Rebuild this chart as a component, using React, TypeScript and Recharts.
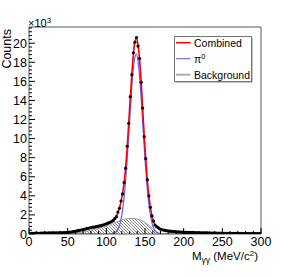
import React from "react";
import {
  ComposedChart,
  XAxis,
  YAxis,
  Line,
  Area,
  Scatter,
  ReferenceArea,
  Legend,
} from "recharts";

// invariant mass histogram, 2 MeV bins, counts in units of 10^3
const binCenters = Array.from({ length: 150 }, (_, i) => 1 + 2 * i);

const counts = [
  0.05, 0.07, 0.08, 0.07, 0.09, 0.08, 0.08, 0.1, 0.09, 0.1,
  0.11, 0.09, 0.11, 0.12, 0.1, 0.12, 0.13, 0.11, 0.13, 0.12,
  0.14, 0.13, 0.14, 0.15, 0.14, 0.17, 0.2, 0.21, 0.25, 0.29,
  0.3, 0.35, 0.37, 0.42, 0.44, 0.5, 0.52, 0.58, 0.6, 0.65,
  0.67, 0.72, 0.73, 0.78, 0.79, 0.85, 0.87, 0.94, 0.97, 1.05,
  1.09, 1.18, 1.23, 1.33, 1.42, 1.63, 1.82, 2.3, 2.7, 3.45,
  4.2, 5.4, 6.9, 9.2, 11.6, 14.4, 16.7, 19.0, 20.1, 20.6,
  19.7, 18.4, 15.9, 13.2, 10.2, 7.9, 5.7, 4.0, 2.8, 1.9,
  1.35, 0.94, 0.78, 0.66, 0.54, 0.49, 0.42, 0.4, 0.35, 0.34,
  0.3, 0.3, 0.27, 0.25, 0.26, 0.22, 0.23, 0.21, 0.19, 0.2,
  0.18, 0.17, 0.18, 0.16, 0.15, 0.16, 0.14, 0.15, 0.13, 0.14,
  0.12, 0.13, 0.11, 0.12, 0.11, 0.1, 0.11, 0.1, 0.09, 0.1,
  0.09, 0.09, 0.08, 0.09, 0.08, 0.08, 0.07, 0.08, 0.07, 0.07,
  0.07, 0.06, 0.07, 0.06, 0.06, 0.06, 0.05, 0.06, 0.05, 0.05,
  0.05, 0.05, 0.05, 0.04, 0.05, 0.04, 0.04, 0.04, 0.04, 0.04,
];

const combinedFit = [
  0.06, 0.07, 0.07, 0.08, 0.08, 0.08, 0.09, 0.09, 0.09, 0.1,
  0.1, 0.1, 0.11, 0.11, 0.11, 0.12, 0.12, 0.12, 0.12, 0.13,
  0.13, 0.13, 0.14, 0.14, 0.15, 0.17, 0.19, 0.22, 0.25, 0.28,
  0.31, 0.34, 0.38, 0.41, 0.45, 0.49, 0.53, 0.57, 0.61, 0.64,
  0.68, 0.71, 0.74, 0.77, 0.8, 0.84, 0.88, 0.93, 0.98, 1.04,
  1.1, 1.17, 1.24, 1.32, 1.44, 1.6, 1.85, 2.25, 2.75, 3.4,
  4.3, 5.4, 7.0, 9.1, 11.7, 14.3, 16.8, 18.9, 20.2, 20.5,
  19.8, 18.3, 16.0, 13.1, 10.3, 7.8, 5.7, 4.0, 2.8, 1.9,
  1.32, 0.96, 0.76, 0.64, 0.55, 0.48, 0.43, 0.39, 0.36, 0.33,
  0.31, 0.29, 0.27, 0.26, 0.25, 0.23, 0.22, 0.21, 0.2, 0.19,
  0.18, 0.17, 0.17, 0.16, 0.16, 0.15, 0.15, 0.14, 0.14, 0.13,
  0.13, 0.12, 0.12, 0.12, 0.11, 0.11, 0.1, 0.1, 0.1, 0.1,
  0.09, 0.09, 0.09, 0.08, 0.08, 0.08, 0.08, 0.07, 0.07, 0.07,
  0.07, 0.07, 0.06, 0.06, 0.06, 0.06, 0.06, 0.05, 0.05, 0.05,
  0.05, 0.05, 0.05, 0.05, 0.04, 0.04, 0.04, 0.04, 0.04, 0.04,
];

const pi0X = [
  0, 103, 105, 107, 109, 111, 113, 115, 117, 119, 121, 123, 125, 127, 129,
  131, 133, 135, 137, 139, 141, 143, 145, 147, 149, 151, 153, 155, 157, 159,
  161, 163, 165, 167, 169, 171, 173, 175, 300,
];
const pi0Y = [
  0, 0, 0.01, 0.03, 0.06, 0.13, 0.26, 0.49, 0.9, 1.54, 2.5, 3.87, 5.67, 7.9,
  10.4, 13.0, 15.5, 17.4, 18.6, 18.87, 18.1, 16.5, 14.3, 11.7, 9.1, 6.7, 4.7,
  3.13, 1.97, 1.18, 0.67, 0.36, 0.18, 0.09, 0.04, 0.02, 0.01, 0, 0,
];

const bgX = [
  0, 48, 52, 56, 60, 64, 68, 72, 76, 80, 84, 88, 92, 96, 100, 104, 108, 112,
  116, 120, 124, 128, 132, 136, 140, 144, 148, 152, 156, 160, 164, 168, 171,
  300,
];
const bgY = [
  0, 0, 0.02, 0.05, 0.09, 0.14, 0.19, 0.25, 0.31, 0.38, 0.45, 0.53, 0.62,
  0.72, 0.84, 0.97, 1.1, 1.23, 1.35, 1.46, 1.55, 1.61, 1.64, 1.63, 1.57, 1.46,
  1.3, 1.09, 0.82, 0.52, 0.26, 0.08, 0, 0,
];

const xMajor = [0, 50, 100, 150, 200, 250, 300];
const yMajor = [0, 2, 4, 6, 8, 10, 12, 14, 16, 18, 20];
const yMax = 21.7;

const legendItems = [
  { label: "Combined", sup: "", color: "#ff0000", width: 1.5 },
  { label: "π", sup: "0", color: "#5a5aff", width: 1 },
  { label: "Background", sup: "", color: "#aaaaaa", width: 2 },
];

const FONT = "'Liberation Sans', Arial, Helvetica, sans-serif";

const histData = binCenters.map((x, i) => ({ x, y: counts[i] }));
const combinedData = binCenters.map((x, i) => ({ x, y: combinedFit[i] }));
const pi0Data = pi0X.map((x, i) => ({ x, y: pi0Y[i] }));
const bgData = bgX.map((x, i) => ({ x, y: bgY[i] }));

const xTicks: number[] = [];
for (let v = 0; v <= 300; v += 10) xTicks.push(v);
const yTicks: number[] = [];
for (let i = 0; i * 0.4 <= yMax; i++) yTicks.push(Math.round(i * 4) / 10);

function XTick(props: any) {
  const { x, y, payload } = props;
  const v = payload.value;
  const major = xMajor.includes(v);
  return (
    <g>
      <line x1={x} x2={x} y1={y} y2={y - (major ? 6 : 3)} stroke="#000" />
      {major && (
        <text x={x} y={y + 11.5} textAnchor="middle" fontSize={12.5} fontFamily={FONT} fill="#000">
          {v}
        </text>
      )}
    </g>
  );
}

function YTick(props: any) {
  const { x, y, payload } = props;
  const v = payload.value;
  const major = yMajor.includes(v);
  return (
    <g>
      <line x1={x} x2={x + (major ? 6 : 3)} y1={y} y2={y} stroke="#000" />
      {major && (
        <text x={x - 2} y={y + 4.5} textAnchor="end" fontSize={12.5} fontFamily={FONT} fill="#000">
          {v}
        </text>
      )}
    </g>
  );
}

function LegendBox() {
  return (
    <svg width={80} height={48} style={{ display: "block" }}>
      <rect x={1.5} y={1.5} width={77} height={45} fill="#888" />
      <rect x={0.5} y={0.5} width={77} height={45} fill="#fff" stroke="#777" />
      {legendItems.map((item, i) => {
        const cy = 6.7 + i * 16;
        return (
          <g key={item.label}>
            <line x1={2} x2={16.5} y1={cy} y2={cy} stroke={item.color} strokeWidth={item.width} />
            <text x={20} y={cy + 4} fontSize={10.5} fontFamily={FONT} fill="#000">
              {item.label}
              {item.sup && (
                <tspan fontSize={7.5} dy={-4}>
                  {item.sup}
                </tspan>
              )}
            </text>
          </g>
        );
      })}
    </svg>
  );
}

function XTitle() {
  return (
    <text x={258} y={260} textAnchor="end" fontSize={11.5} fontFamily={FONT} fill="#000">
      M
      <tspan fontSize={8.5} dy={2.5}>γγ</tspan>
      <tspan dy={-2.5}> (MeV/c</tspan>
      <tspan fontSize={8} dy={-4}>2</tspan>
      <tspan dy={4}>)</tspan>
    </text>
  );
}

function YTitle() {
  return (
    <g>
      <text
        transform="translate(11,29) rotate(-90)"
        textAnchor="end"
        fontSize={12.5}
        fontFamily={FONT}
        fill="#000"
      >
        Counts
      </text>
      <text x={28} y={26.5} fontSize={11} fontFamily={FONT} fill="#000">
        ×10
        <tspan fontSize={8} dy={-4}>3</tspan>
      </text>
    </g>
  );
}

export default function App() {
  return (
    <div style={{ position: "absolute", left: 0, top: 0, width: 291, height: 277, background: "#fff" }}>
      <ComposedChart
        width={291}
        height={277}
        margin={{ top: 27, right: 30, bottom: 0, left: 0 }}
      >
        <defs>
          <pattern id="hatch" width={3} height={3} patternUnits="userSpaceOnUse">
            <path d="M-1,-1 L4,4 M-1,2 L1,4 M2,-1 L4,1" stroke="#333" strokeWidth={0.6} />
          </pattern>
        </defs>
        <XAxis
          dataKey="x"
          type="number"
          domain={[0, 300]}
          ticks={xTicks}
          interval={0}
          height={43}
          tickSize={0}
          tickMargin={0}
          axisLine={false}
          tickLine={false}
          tick={XTick}
          allowDataOverflow
          label={{ content: XTitle }}
        />
        <YAxis
          dataKey="y"
          type="number"
          domain={[0, yMax]}
          ticks={yTicks}
          interval={0}
          width={29}
          tickSize={0}
          tickMargin={0}
          axisLine={false}
          tickLine={false}
          tick={YTick}
          allowDataOverflow
          label={{ content: YTitle }}
        />
        <Area
          data={bgData}
          dataKey="y"
          type="monotone"
          fill="url(#hatch)"
          fillOpacity={1}
          stroke="#999"
          strokeWidth={1}
          isAnimationActive={false}
        />
        <Line
          data={pi0Data}
          dataKey="y"
          type="monotone"
          stroke="#5a5aff"
          strokeWidth={1.2}
          dot={false}
          isAnimationActive={false}
        />
        <Line
          data={combinedData}
          dataKey="y"
          type="monotone"
          stroke="#ff0000"
          strokeWidth={1.6}
          dot={false}
          isAnimationActive={false}
        />
        <Scatter
          data={histData}
          dataKey="y"
          fill="#000"
          isAnimationActive={false}
          shape={(p: any) => <circle cx={p.cx} cy={p.cy} r={1.6} fill="#000" />}
        />
        <ReferenceArea
          x1={0}
          x2={300}
          y1={0}
          y2={yMax}
          fill="none"
          fillOpacity={0}
          stroke="#555"
          strokeWidth={1}
          ifOverflow="visible"
        />
        <Legend
          layout="horizontal"
          verticalAlign="middle"
          align="center"
          wrapperStyle={{ position: "absolute", left: 174, top: 36, width: 80, height: 48 }}
          content={() => <LegendBox />}
        />
      </ComposedChart>
    </div>
  );
}
